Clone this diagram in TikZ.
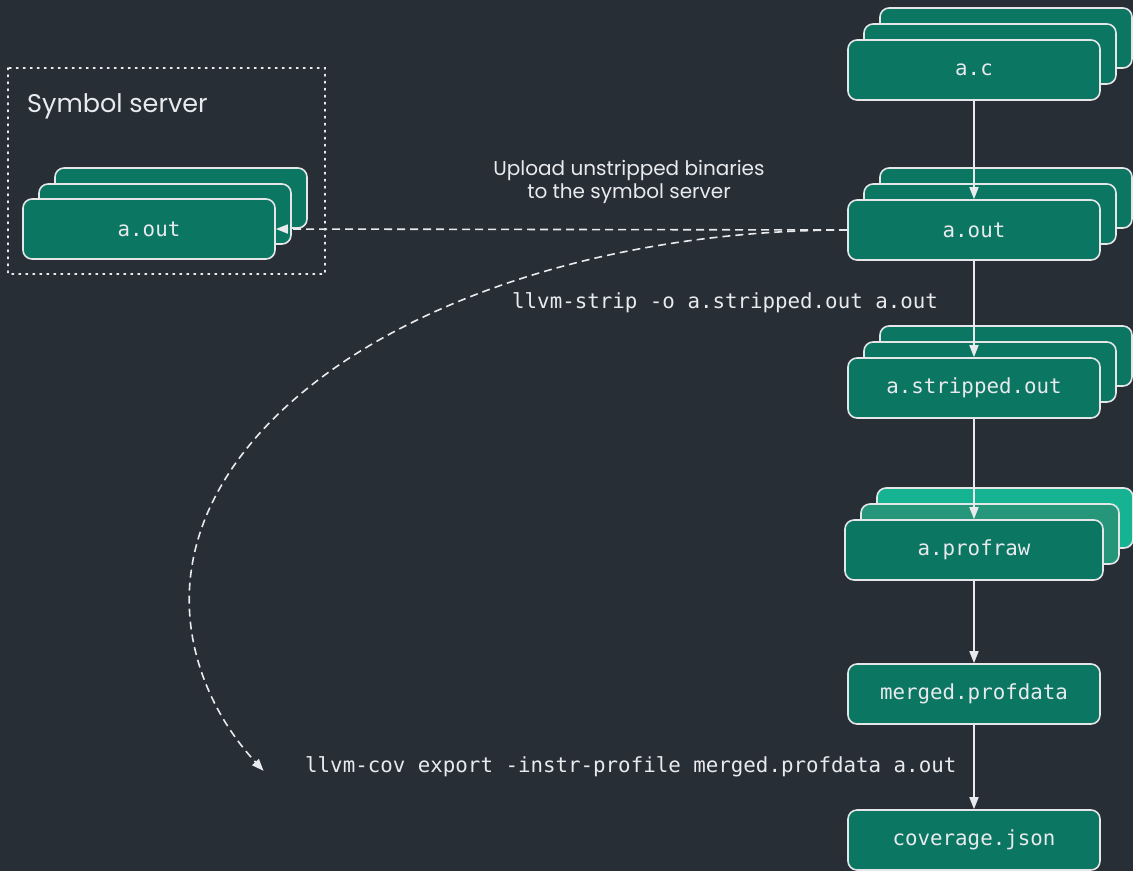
\documentclass[tikz,border=0pt]{standalone}
\usepackage{fontspec}
\usetikzlibrary{arrows.meta}
\newfontfamily\uisans{Poppins}
\newfontfamily\codefont{DejaVu Sans Mono}
\definecolor{bgc}{RGB}{40,46,54}
\definecolor{boxfill}{RGB}{11,118,98}
\definecolor{boxline}{RGB}{228,230,232}
\definecolor{rawback}{RGB}{21,179,146}
\definecolor{rawmid}{RGB}{38,150,123}
\definecolor{txt}{RGB}{232,234,237}
\tikzset{
  box/.style={draw=boxline, line width=1.6pt, fill=boxfill, rounded corners=9pt,
    minimum width=252pt, minimum height=60pt, inner sep=0pt, text=txt,
    font=\codefont\fontsize{20.8}{24}\selectfont},
  arr/.style={draw=txt, line width=1.6pt, -{Triangle[width=9pt,length=12pt]}},
  dasharr/.style={draw=txt, line width=1.6pt, dash pattern=on 8pt off 5pt,
    -{Triangle[width=9pt,length=12pt]}},
  codelbl/.style={text=txt, inner sep=0pt, font=\codefont\fontsize{20.8}{24}\selectfont},
  uilbl/.style={text=txt, inner sep=0pt, font=\uisans\fontsize{20}{23}\selectfont},
}
\begin{document}
\begin{tikzpicture}[x=1pt, y=-1pt]
\fill[bgc] (0,0) rectangle (1133,871);
\useasboundingbox (0,0) rectangle (1133,871);

% symbol server
\draw[txt, line width=1.6pt, dash pattern=on 1.6pt off 5.4pt, line cap=round] (8,68) rectangle (325,274);
\node[uilbl, anchor=west, font=\uisans\fontsize{25.5}{28}\selectfont] (symlbl) at (27,106) {Symbol server};
\node[box] (so3) at (181,198) {};
\node[box] (so2) at (165,214) {};
\node[box] (sout) at (149,229) {a.out};

% a.c
\node[box] (ac3) at (1006,38) {};
\node[box] (ac2) at (990,54) {};
\node[box] (ac) at (974,70) {a.c};

% a.out
\node[box] (ao3) at (1006,198) {};
\node[box] (ao2) at (990,214) {};
\node[box] (aout) at (974,230) {a.out};

% a.stripped.out
\node[box] (st3) at (1006,356) {};
\node[box] (st2) at (990,372) {};
\node[box] (strip) at (974,388) {a.stripped.out};

% a.profraw
\node[box, fill=rawback, minimum width=256pt] (pr3) at (1005,518) {};
\node[box, fill=rawmid, minimum width=258pt] (pr2) at (990,534) {};
\node[box, minimum width=258pt] (praw) at (974,550) {a.profraw};

\node[box] (merged) at (974,694) {merged.profdata};
\node[box] (cov) at (974,840) {coverage.json};

% vertical arrows
\draw[arr] (ac.south) -- (aout.north);
\draw[arr] (aout.south) -- (strip.north);
\draw[arr] (strip.south) -- (praw.north);
\draw[arr] (praw.south) -- (merged.north);
\draw[arr] (merged.south) -- (cov.north);

% labels
\node[uilbl, align=center] (uplbl) at (629,182) {Upload unstripped binaries\\to the symbol server};
\node[codelbl, anchor=west] (striplbl) at (512,303) {llvm-strip -o a.stripped.out a.out};
\node[codelbl, anchor=west] (covlbl) at (305,767) {llvm-cov export -instr-profile merged.profdata a.out};

% dashed connectors
\draw[dasharr] (aout.west) -- (sout.east);
\draw[dasharr] (aout.west) arc[start angle=90, end angle=207.5, x radius=658pt, y radius=370pt];
\end{tikzpicture}
\end{document}
